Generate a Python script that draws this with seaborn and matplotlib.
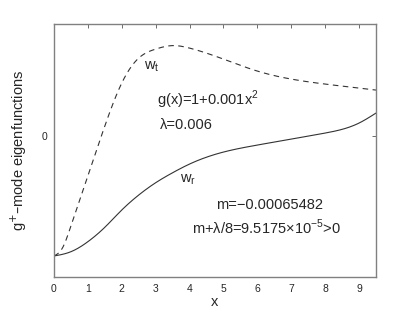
import numpy as np
import pandas as pd
import matplotlib
matplotlib.use("Agg")
import matplotlib.pyplot as plt
import seaborn as sns

x_r = [0, 0.5, 1, 1.5, 2, 2.5, 3, 3.5, 4, 5, 6, 7, 8, 9, 9.5]
w_r = [-1.20, -1.157, -1.057, -0.913, -0.74, -0.59, -0.467, -0.367, -0.28, -0.16, -0.09, -0.03, 0.03, 0.13, 0.23]
x_t = [0, 0.25, 0.5, 1, 1.5, 2, 2.5, 3, 3.5, 4, 5, 6, 7, 8, 9, 9.5]
w_t = [-1.20, -1.12, -0.90, -0.40, 0.10, 0.53, 0.78, 0.87, 0.905, 0.88, 0.77, 0.65, 0.57, 0.52, 0.48, 0.46]
x_ticks = [0, 1, 2, 3, 4, 5, 6, 7, 8, 9]
y_ticks = [0]

sns.set_style("white")
plt.rcParams['font.family'] = ['Liberation Sans', 'DejaVu Sans']

xs = np.linspace(0, 9.5, 500)


def smooth(xv, yv):
    xv = np.asarray(xv, float)
    yv = np.asarray(yv, float)
    n = len(xv)
    h = np.diff(xv)
    A = np.zeros((n, n))
    b = np.zeros(n)
    A[0, 0] = A[-1, -1] = 1
    for i in range(1, n - 1):
        A[i, i - 1] = h[i - 1]
        A[i, i] = 2 * (h[i - 1] + h[i])
        A[i, i + 1] = h[i]
        b[i] = 3 * ((yv[i + 1] - yv[i]) / h[i] - (yv[i] - yv[i - 1]) / h[i - 1])
    c = np.linalg.solve(A, b)
    bb = np.array([(yv[i + 1] - yv[i]) / h[i] - h[i] * (2 * c[i] + c[i + 1]) / 3 for i in range(n - 1)])
    d = np.array([(c[i + 1] - c[i]) / (3 * h[i]) for i in range(n - 1)])
    idx = np.clip(np.searchsorted(xv, xs) - 1, 0, n - 2)
    t = xs - xv[idx]
    return yv[idx] + bb[idx] * t + c[idx] * t ** 2 + d[idx] * t ** 3


dfs = pd.DataFrame({"x": xs, "w_r": smooth(x_r, w_r), "w_t": smooth(x_t, w_t)})

fig = plt.figure(figsize=(4.15, 3.13), dpi=100)
ax = fig.add_axes([0.130, 0.115, 0.776, 0.808])
sns.lineplot(data=dfs, x="x", y="w_r", ax=ax, color="#333333", lw=0.8)
sns.lineplot(data=dfs, x="x", y="w_t", ax=ax, color="#333333", lw=0.8)
ax.lines[-1].set_dashes([5, 4])

ax.set_xlim(0, 9.5)
ax.set_ylim(-1.41, 1.12)
ax.set_xticks(x_ticks)
ax.set_yticks(y_ticks)
ax.tick_params(direction="in", length=3, width=0.6, labelsize=7.5, top=True, right=True,
               color="#555555", pad=5)
for s in ax.spines.values():
    s.set_visible(True)
    s.set_color("#808080")
    s.set_linewidth(1.0)
ax.set_xlabel("x", fontsize=10.5, labelpad=1)
ax.set_ylabel(r"g$^{+}$–mode eigenfunctions", fontsize=10.5, labelpad=9)

fs = 10.5
ax.text(2.66, 0.69, r"w$_{\mathregular{t}}$", fontsize=fs, ha="left", va="center")
ax.text(3.05, 0.36, r"g(x)=1+0.001x$^{\mathregular{2}}$", fontsize=fs, ha="left", va="center")
ax.text(3.13, 0.11, "λ=0.006", fontsize=fs, ha="left", va="center")
ax.text(3.72, -0.44, r"w$_{\mathregular{r}}$", fontsize=fs, ha="left", va="center")
ax.text(6.35, -0.69, "m=−0.00065482", fontsize=fs, ha="center", va="center")
ax.text(4.07, -0.91, r"m+λ/8=9.5175×10$^{\mathregular{−5}}$>0", fontsize=fs, ha="left", va="center")

fig.savefig("out.png", dpi=100)
